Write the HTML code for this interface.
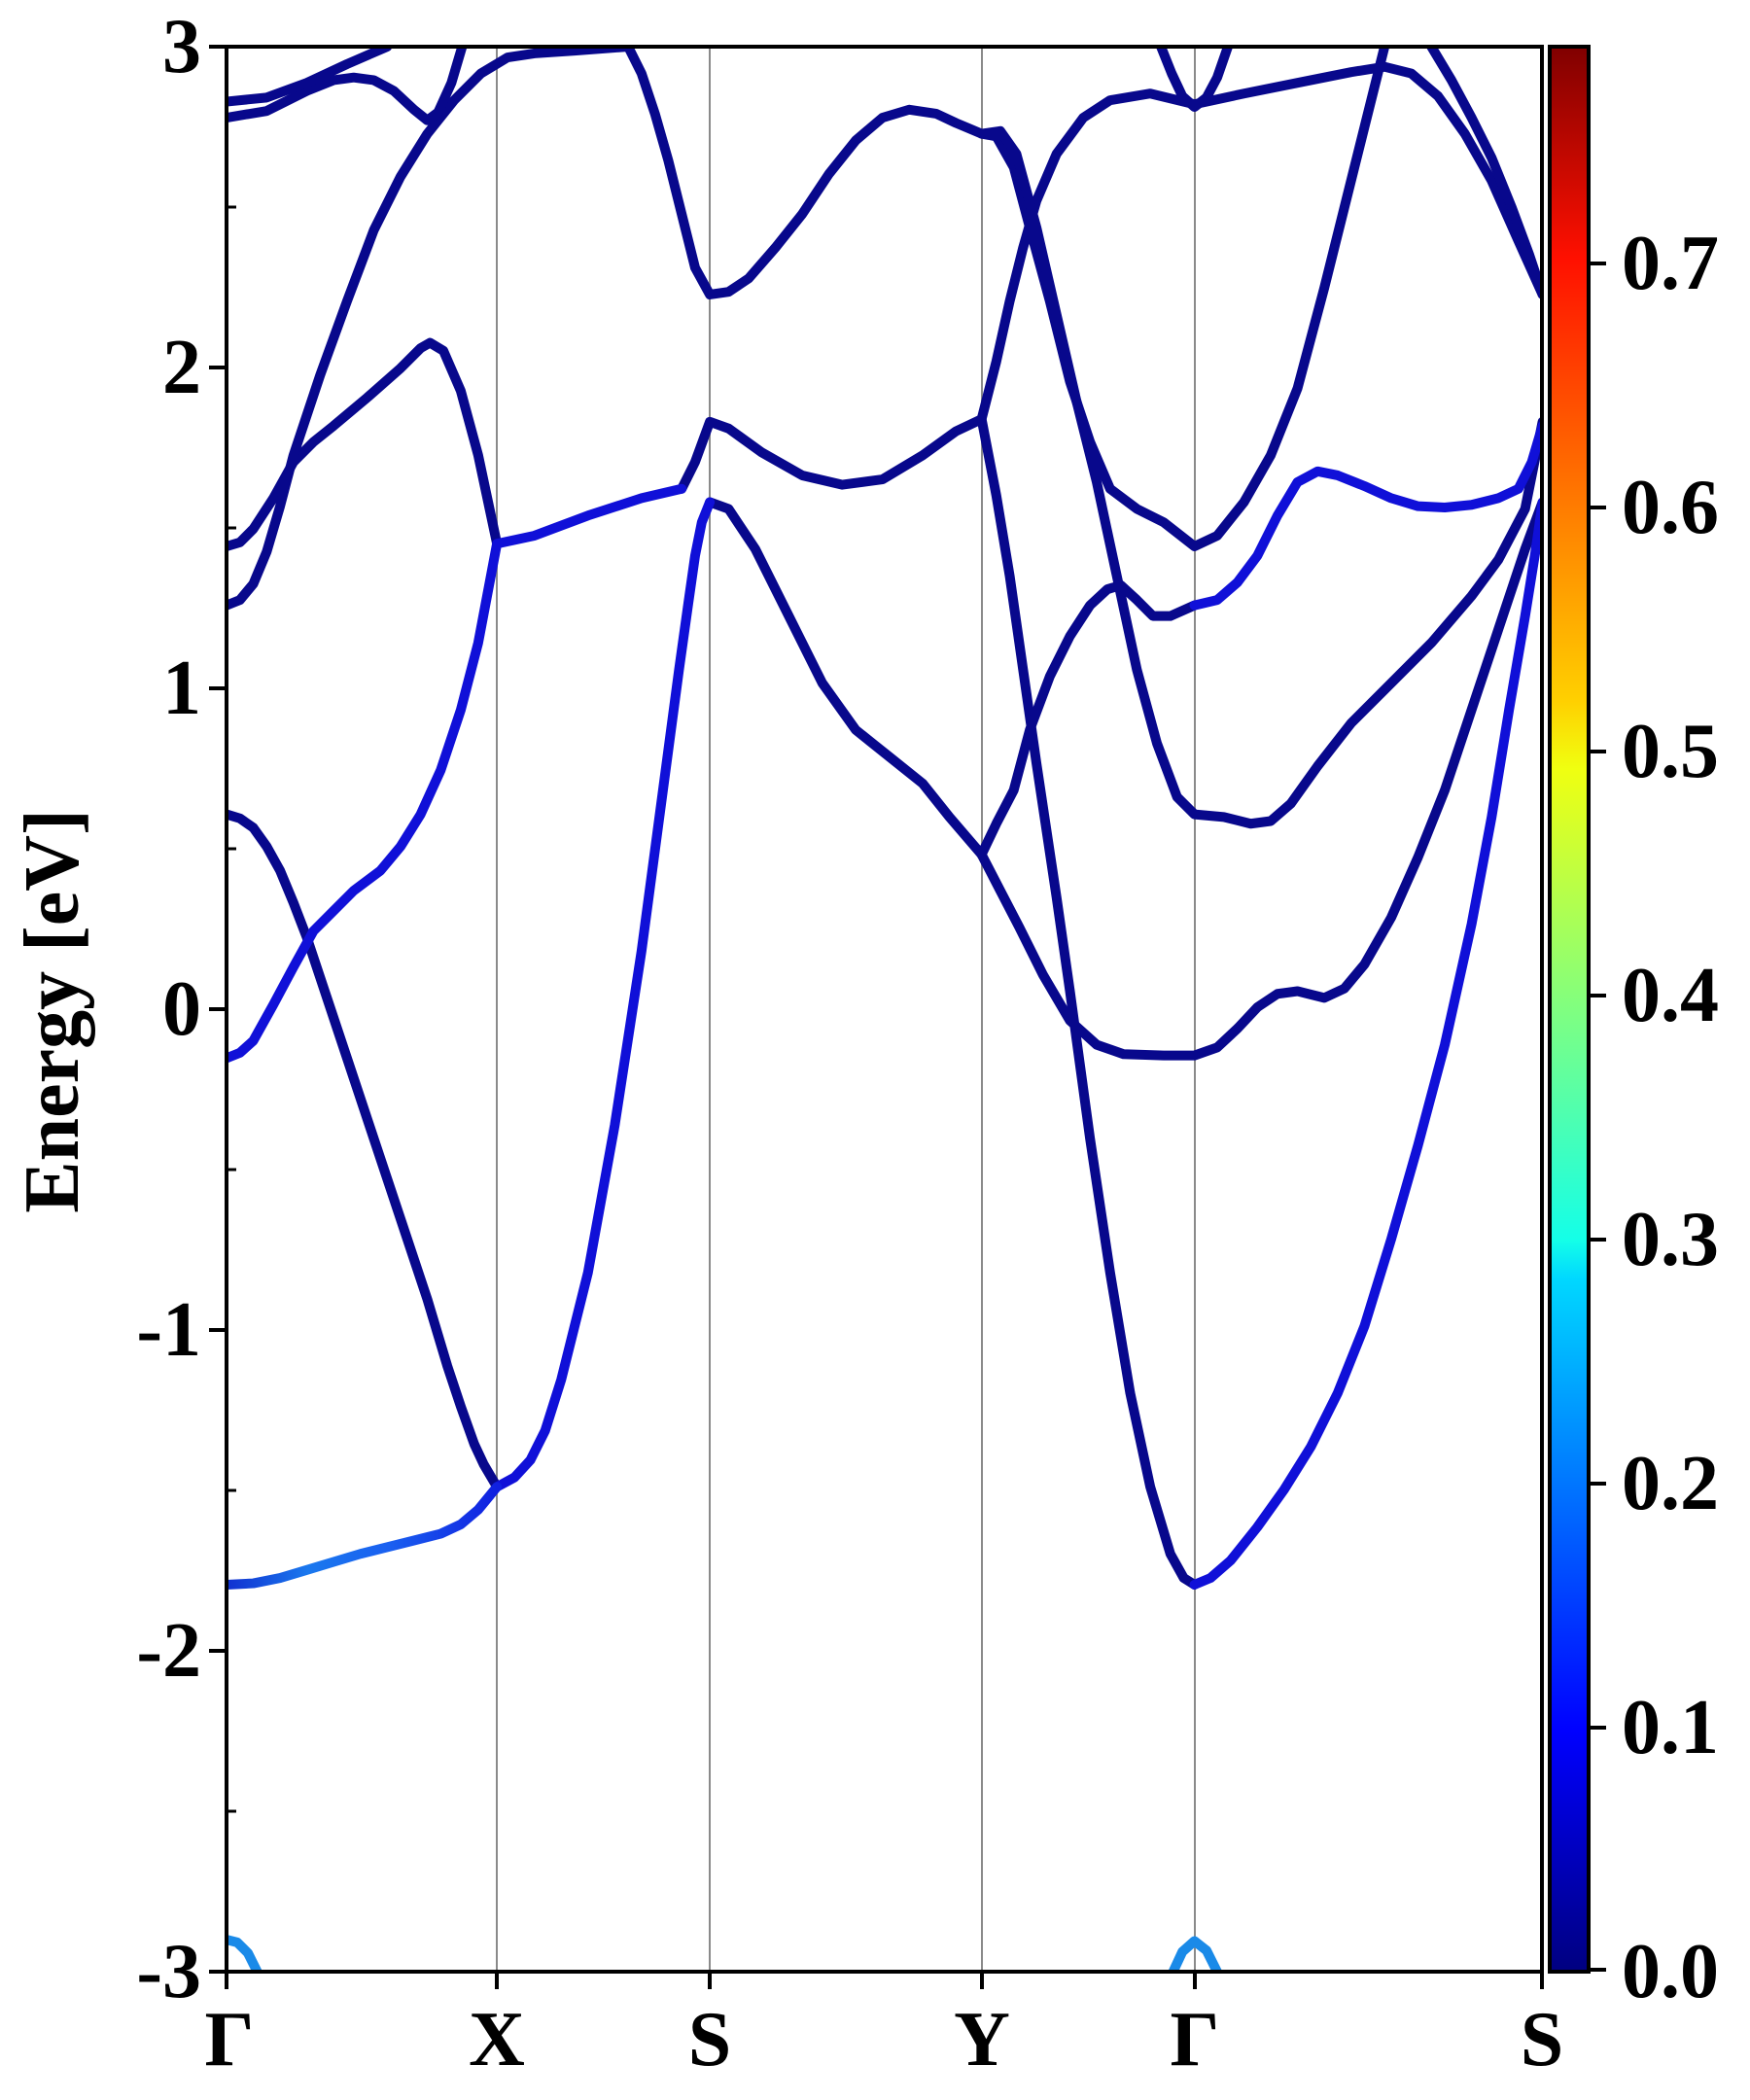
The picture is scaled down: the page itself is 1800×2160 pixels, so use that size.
<!DOCTYPE html>
<html><head><meta charset="utf-8"><style>
html,body{margin:0;padding:0;background:#fff;}
svg{display:block;}
text{font-family:"Liberation Serif",serif;font-weight:bold;fill:#000;}
</style></head><body>
<svg width="1800" height="2160" viewBox="0 0 1800 2160" xmlns="http://www.w3.org/2000/svg">
<defs>
<clipPath id="pc"><rect x="233" y="48" width="1353" height="1980"/></clipPath>
<linearGradient id="jet" x1="0" y1="1" x2="0" y2="0">
<stop offset="0" stop-color="#000080"/>
<stop offset="0.11" stop-color="#0000f0"/>
<stop offset="0.125" stop-color="#0000ff"/>
<stop offset="0.36" stop-color="#00d8ff"/>
<stop offset="0.38" stop-color="#14ffe8"/>
<stop offset="0.5" stop-color="#80ff80"/>
<stop offset="0.625" stop-color="#f0ff10"/>
<stop offset="0.66" stop-color="#ffd000"/>
<stop offset="0.89" stop-color="#ff1000"/>
<stop offset="1" stop-color="#800000"/>
</linearGradient>
<linearGradient id="gA" gradientUnits="userSpaceOnUse" x1="170" y1="0" x2="372" y2="0">
<stop offset="0" stop-color="#1030d0"/>
<stop offset="0.3" stop-color="#1a78ee"/>
<stop offset="0.6" stop-color="#1a60f0"/>
<stop offset="1" stop-color="#1020e0"/>
</linearGradient>
</defs>
<g stroke="#8a8a8a" stroke-width="2">
<line x1="511" y1="48" x2="511" y2="2028"/>
<line x1="730" y1="48" x2="730" y2="2028"/>
<line x1="1010" y1="48" x2="1010" y2="2028"/>
<line x1="1229" y1="48" x2="1229" y2="2028"/>
</g>
<g clip-path="url(#pc)">
<g transform="matrix(1.377,0,0,1.378,-1.09,-0.23)" fill="none" stroke-width="10" stroke-linejoin="round" stroke-linecap="round">
<g stroke="#08088c">
<polyline vector-effect="non-scaling-stroke" points="170,608 180,611 190,618 200,632 210,650 220,674 230,700 245,745 260,790 275,835 290,880 305,925 320,970 335,1020 345,1050 355,1078 362,1093 372,1110"/>
<polyline vector-effect="non-scaling-stroke" points="510,365 520,345 531,315 545,320 570,338 600,355 630,362 660,358 690,340 715,322 734,313"/>
<polyline vector-effect="non-scaling-stroke" points="531,375 545,380 565,410 590,460 615,510 640,545 665,565 690,585 710,610 734,638"/>
<polyline vector-effect="non-scaling-stroke" points="734,638 748,665 762,692 780,728 800,762 820,780 840,787 870,788 893,788 910,782 925,768 940,752 955,742 970,740 990,745 1005,738 1020,720 1040,685 1060,640 1080,590 1100,530 1120,470 1140,410 1153,375"/>
<polyline vector-effect="non-scaling-stroke" points="734,313 745,370 755,430 765,500 775,570 790,670 800,740 815,850 830,950 845,1040 860,1110 875,1160 885,1178 893,1183"/>
<polyline vector-effect="non-scaling-stroke" points="734,313 745,270 755,225 765,185 775,150 790,115 810,88 830,75 860,70 893,78 930,70 970,62 1010,54 1035,50 1055,55 1075,72 1095,100 1115,135 1135,180 1153,220"/>
<polyline vector-effect="non-scaling-stroke" points="734,100 745,102 758,125 770,170 785,225 800,285 815,330 830,365 850,380 870,390 893,408 910,400 930,375 950,340 970,290 990,215 1005,155 1020,95 1035,35"/>
<polyline vector-effect="non-scaling-stroke" points="734,100 748,98 760,115 775,170 790,235 805,300 820,360 835,430 850,500 865,555 880,595 893,608 915,610 935,615 950,613 965,600 985,572 1010,540 1040,510 1070,480 1100,445 1120,418 1140,380 1153,315"/>
<polyline vector-effect="non-scaling-stroke" points="470,35 480,55 490,85 500,120 510,160 520,200 531,220 545,218 560,208 580,185 600,160 620,130 640,105 660,88 680,82 700,85 715,92 734,100"/>
<polyline vector-effect="non-scaling-stroke" points="170,408 180,405 190,395 205,372 220,345 235,330 250,318 275,297 300,275 315,260 322,256 332,262 345,292 358,340 372,406"/>
<polyline vector-effect="non-scaling-stroke" points="170,452 180,448 190,436 200,412 210,378 220,340 240,280 260,225 280,172 300,132 320,100 340,75 360,55 380,43 400,40 430,38 470,35"/>
<polyline vector-effect="non-scaling-stroke" points="170,88 200,83 230,68 250,60 265,58 280,60 295,68 310,82 320,90 328,84 338,62 346,35"/>
<polyline vector-effect="non-scaling-stroke" points="170,76 200,73 230,62 260,48 290,35"/>
<polyline vector-effect="non-scaling-stroke" points="868,35 876,55 884,72 893,80 902,73 910,58 918,35"/>
<polyline vector-effect="non-scaling-stroke" points="1070,35 1085,60 1100,88 1115,118 1130,155 1143,190 1153,220"/>
<polyline vector-effect="non-scaling-stroke" points="734,638 745,615 758,590 770,545 785,505 800,475 815,452 828,440 838,437 850,448 862,460 875,460 893,452"/>
</g>
<g stroke="#1010d8">
<polyline vector-effect="non-scaling-stroke" points="170,790 180,786 190,777 205,750 220,722 235,695 250,680 265,665 285,650 300,632 315,608 330,575 345,530 358,480 372,406"/>
<polyline vector-effect="non-scaling-stroke" points="372,406 400,400 440,385 480,372 510,365"/>
<polyline vector-effect="non-scaling-stroke" points="372,1110 385,1103 397,1090 408,1068 420,1030 430,990 440,950 450,895 460,840 470,775 480,710 490,635 500,560 508,500 515,450 520,415 525,390 531,375"/>
<polyline vector-effect="non-scaling-stroke" points="893,1183 905,1178 920,1165 940,1140 960,1112 980,1080 1000,1040 1020,990 1040,925 1060,855 1080,780 1100,690 1115,610 1128,530 1140,460 1148,410 1153,375"/>
<polyline vector-effect="non-scaling-stroke" points="893,452 910,448 925,435 940,415 955,385 970,360 985,352 1000,355 1020,363 1040,372 1060,378 1080,379 1100,377 1120,372 1135,365 1145,345 1153,318"/>
</g>
<polyline vector-effect="non-scaling-stroke" stroke="url(#gA)" points="170,1183 190,1182 210,1178 230,1172 250,1166 270,1160 290,1155 310,1150 330,1145 345,1138 358,1127 372,1110"/>
<g stroke="#1a8ae8">
<polyline vector-effect="non-scaling-stroke" points="170,1448 178,1450 186,1458 193,1472"/>
<polyline vector-effect="non-scaling-stroke" points="877,1472 884,1457 893,1449 902,1456 910,1472"/>
</g>
</g>
</g>
<rect x="233" y="48" width="1353" height="1980" fill="none" stroke="#000" stroke-width="4"/>
<g stroke="#000" stroke-width="4">
<line x1="215" y1="48" x2="233" y2="48"/>
<line x1="215" y1="378" x2="233" y2="378"/>
<line x1="215" y1="708" x2="233" y2="708"/>
<line x1="215" y1="1038" x2="233" y2="1038"/>
<line x1="215" y1="1368" x2="233" y2="1368"/>
<line x1="215" y1="1698" x2="233" y2="1698"/>
<line x1="215" y1="2028" x2="233" y2="2028"/>
<line x1="233" y1="2028" x2="233" y2="2046"/>
<line x1="511" y1="2028" x2="511" y2="2046"/>
<line x1="730" y1="2028" x2="730" y2="2046"/>
<line x1="1010" y1="2028" x2="1010" y2="2046"/>
<line x1="1229" y1="2028" x2="1229" y2="2046"/>
<line x1="1586" y1="2028" x2="1586" y2="2046"/>
</g>
<g stroke="#000" stroke-width="3">
<line x1="233" y1="213" x2="243" y2="213"/>
<line x1="233" y1="543" x2="243" y2="543"/>
<line x1="233" y1="873" x2="243" y2="873"/>
<line x1="233" y1="1203" x2="243" y2="1203"/>
<line x1="233" y1="1533" x2="243" y2="1533"/>
<line x1="233" y1="1863" x2="243" y2="1863"/>
</g>
<g font-size="80" text-anchor="end">
<text x="207" y="74">3</text>
<text x="207" y="404">2</text>
<text x="207" y="734">1</text>
<text x="207" y="1064">0</text>
<text x="207" y="1394">-1</text>
<text x="207" y="1724">-2</text>
<text x="207" y="2054">-3</text>
</g>
<g font-size="80" text-anchor="middle">
<text x="236" y="2124">Γ</text>
<text x="511" y="2124">X</text>
<text x="730" y="2124">S</text>
<text x="1010" y="2124">Y</text>
<text x="1229" y="2124">Γ</text>
<text x="1586" y="2124">S</text>
</g>
<text font-size="80" text-anchor="middle" transform="translate(80,1040) rotate(-90)">Energy [eV]</text>
<rect x="1594" y="48" width="40" height="1980" fill="url(#jet)" stroke="#000" stroke-width="4"/>
<g stroke="#000" stroke-width="4">
<line x1="1634" y1="2026" x2="1652" y2="2026"/>
<line x1="1634" y1="1777" x2="1652" y2="1777"/>
<line x1="1634" y1="1526" x2="1652" y2="1526"/>
<line x1="1634" y1="1275" x2="1652" y2="1275"/>
<line x1="1634" y1="1024" x2="1652" y2="1024"/>
<line x1="1634" y1="773" x2="1652" y2="773"/>
<line x1="1634" y1="522" x2="1652" y2="522"/>
<line x1="1634" y1="271" x2="1652" y2="271"/>
</g>
<g font-size="80">
<text x="1668" y="2054">0.0</text>
<text x="1668" y="1803">0.1</text>
<text x="1668" y="1552">0.2</text>
<text x="1668" y="1301">0.3</text>
<text x="1668" y="1050">0.4</text>
<text x="1668" y="799">0.5</text>
<text x="1668" y="548">0.6</text>
<text x="1668" y="297">0.7</text>
</g>
</svg>
</body></html>
